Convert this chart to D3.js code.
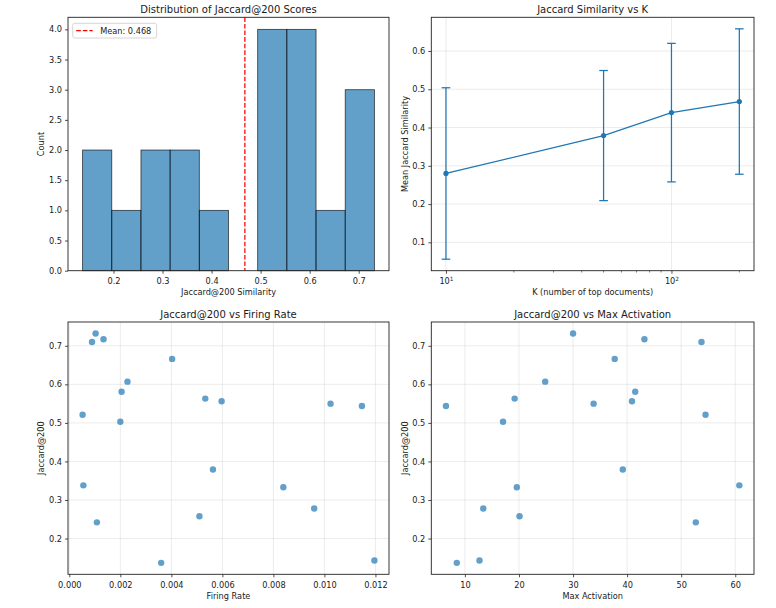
<!DOCTYPE html>
<html>
<head>
<meta charset="utf-8">
<script src="https://cdn.jsdelivr.net/npm/d3@7"></script>
<style>
  body { margin: 0; background: #fff; }
  text { font-family: "DejaVu Sans", sans-serif; fill: #1a1a1a; }
</style>
</head>
<body>
<div id="chart"></div>
<script>
const width = 776;
const height = 608;

// per-feature scores (same order in every array)
const jaccard = [0.732, 0.710, 0.717, 0.666, 0.607, 0.581, 0.563, 0.556, 0.550, 0.544,
                 0.521, 0.503, 0.379, 0.338, 0.333, 0.278, 0.258, 0.242, 0.137, 0.143];
const firingRate = [0.00103, 0.00089, 0.00134, 0.00403, 0.00228, 0.00205, 0.00533, 0.00597, 0.01024, 0.01147,
                    0.00052, 0.00200, 0.00563, 0.00055, 0.00839, 0.00960, 0.00510, 0.00108, 0.00360, 0.01196];
const maxActivation = [30.0, 53.75, 43.2, 37.7, 24.85, 41.5, 19.2, 40.9, 33.8, 6.5,
                       54.5, 17.05, 39.2, 60.75, 19.6, 13.4, 20.1, 52.7, 8.5, 12.7];

// jaccard vs K
const kValues = [10, 50, 100, 200];
const kMeans = [0.280, 0.379, 0.439, 0.468];
const kStd = [0.224, 0.170, 0.181, 0.190];

// tick labels
const histYTicks = [0, 0.5, 1, 1.5, 2, 2.5, 3, 3.5, 4];
const histXTicks = [0.2, 0.3, 0.4, 0.5, 0.6, 0.7];
const kYTicks = [0.1, 0.2, 0.3, 0.4, 0.5, 0.6];
const kMajor = [10, 100];
const kMinor = [20, 30, 40, 50, 60, 70, 80, 90, 200];
const scatterYTicks = [0.2, 0.3, 0.4, 0.5, 0.6, 0.7];
const firingTicks = [0, 0.002, 0.004, 0.006, 0.008, 0.010, 0.012];
const maxActTicks = [10, 20, 30, 40, 50, 60];

const blue = "#1f77b4";
const fs = 8.2;

const svg = d3.select("#chart")
  .append("svg")
  .attr("width", width)
  .attr("height", height)
  .style("background", "#fff");

// panel boxes (pixel rectangles of the four axes)
const boxes = {
  tl: {x0: 68, x1: 389, y0: 17.3, y1: 270.7},
  tr: {x0: 431.3, x1: 754, y0: 17.3, y1: 270.7},
  bl: {x0: 68, x1: 389, y0: 322, y1: 574.3},
  br: {x0: 431.3, x1: 754, y0: 322, y1: 574.3}
};

// matplotlib style 5% margin
function pad(lo, hi) {
  const r = hi - lo;
  return [lo - r * 0.05, hi + r * 0.05];
}

function addTitles(b, title, xlabel, ylabel, ylabelX) {
  svg.append("text")
    .attr("x", (b.x0 + b.x1) / 2)
    .attr("y", b.y0 - 4.5)
    .attr("text-anchor", "middle")
    .attr("font-size", 10)
    .text(title);
  svg.append("text")
    .attr("x", (b.x0 + b.x1) / 2)
    .attr("y", b.y1 + 21.5)
    .attr("dy", "0.35em")
    .attr("text-anchor", "middle")
    .attr("font-size", fs)
    .text(xlabel);
  svg.append("text")
    .attr("transform", `translate(${ylabelX}, ${(b.y0 + b.y1) / 2}) rotate(-90)`)
    .attr("dy", "0.35em")
    .attr("text-anchor", "middle")
    .attr("font-size", fs)
    .text(ylabel);
}

function drawAxes(b, x, y, xTicks, yTicks, xFmt, yFmt) {
  const gx = svg.append("g")
    .attr("transform", `translate(0, ${b.y1})`)
    .call(d3.axisBottom(x).tickValues(xTicks).tickFormat(xFmt).tickSize(3).tickPadding(4.5));
  const gy = svg.append("g")
    .attr("transform", `translate(${b.x0}, 0)`)
    .call(d3.axisLeft(y).tickValues(yTicks).tickFormat(yFmt).tickSize(3).tickPadding(3));
  [gx, gy].forEach(g => {
    g.select(".domain").remove();
    g.selectAll("text").attr("font-size", fs).attr("font-family", "DejaVu Sans").attr("fill", "#1a1a1a");
    g.selectAll("line").attr("stroke", "#222").attr("stroke-width", 0.8);
  });
  return gx;
}

function drawFrame(b) {
  svg.append("rect")
    .attr("x", b.x0).attr("y", b.y0)
    .attr("width", b.x1 - b.x0).attr("height", b.y1 - b.y0)
    .attr("fill", "none")
    .attr("stroke", "#222")
    .attr("stroke-width", 0.9);
}

function drawGrid(b, x, y, xTicks, yTicks) {
  const g = svg.append("g")
    .attr("stroke", "#b0b0b0")
    .attr("stroke-opacity", 0.35)
    .attr("stroke-width", 0.7);
  xTicks.forEach(t => {
    g.append("line").attr("x1", x(t)).attr("x2", x(t)).attr("y1", b.y0).attr("y2", b.y1);
  });
  yTicks.forEach(t => {
    g.append("line").attr("x1", b.x0).attr("x2", b.x1).attr("y1", y(t)).attr("y2", y(t));
  });
}

// ---------- histogram ----------
{
  const b = boxes.tl;
  const lo = d3.min(jaccard), hi = d3.max(jaccard);
  const nBins = 10;
  const step = (hi - lo) / nBins;
  const edges = d3.range(1, nBins).map(i => lo + i * step);
  const bins = d3.bin().domain([lo, hi]).thresholds(edges)(jaccard);

  const x = d3.scaleLinear().domain(pad(lo, hi)).range([b.x0, b.x1]);
  const y = d3.scaleLinear().domain([0, 4.2]).range([b.y1, b.y0]);

  svg.append("g")
    .selectAll("rect")
    .data(bins.filter(d => d.length > 0))
    .join("rect")
    .attr("x", d => x(d.x0))
    .attr("y", d => y(d.length))
    .attr("width", d => x(d.x1) - x(d.x0))
    .attr("height", d => y(0) - y(d.length))
    .attr("fill", blue)
    .attr("fill-opacity", 0.7)
    .attr("stroke", "#000")
    .attr("stroke-opacity", 0.7)
    .attr("stroke-width", 0.85);

  const mean = d3.mean(jaccard);
  svg.append("line")
    .attr("x1", x(mean)).attr("x2", x(mean))
    .attr("y1", b.y0).attr("y2", b.y1)
    .attr("stroke", "red")
    .attr("stroke-width", 1.25)
    .attr("stroke-dasharray", "4.6,2");

  drawAxes(b, x, y, histXTicks, histYTicks, d3.format(".1f"), d3.format(".1f"));
  addTitles(b, "Distribution of Jaccard@200 Scores", "Jaccard@200 Similarity", "Count", 41);
  drawFrame(b);

  // legend
  const lg = svg.append("g").attr("transform", `translate(${b.x0 + 4.7}, ${b.y0 + 6})`);
  lg.append("rect")
    .attr("width", 84).attr("height", 14.7)
    .attr("rx", 2)
    .attr("fill", "#fff").attr("fill-opacity", 0.8)
    .attr("stroke", "#cccccc").attr("stroke-width", 0.8);
  lg.append("line")
    .attr("x1", 3.5).attr("x2", 20).attr("y1", 7.4).attr("y2", 7.4)
    .attr("stroke", "red").attr("stroke-width", 1.25)
    .attr("stroke-dasharray", "4.6,2");
  lg.append("text")
    .attr("x", 27.5).attr("y", 7.4).attr("dy", "0.35em")
    .attr("font-size", fs)
    .text(`Mean: ${d3.format(".3f")(mean)}`);
}

// ---------- jaccard vs K ----------
{
  const b = boxes.tr;
  const lx = pad(Math.log10(d3.min(kValues)), Math.log10(d3.max(kValues)));
  const x = d3.scaleLog().domain([10 ** lx[0], 10 ** lx[1]]).range([b.x0, b.x1]);
  const lows = kMeans.map((m, i) => m - kStd[i]);
  const highs = kMeans.map((m, i) => m + kStd[i]);
  const y = d3.scaleLinear().domain(pad(d3.min(lows), d3.max(highs))).range([b.y1, b.y0]);

  drawGrid(b, x, y, kMajor, kYTicks);

  const gx = drawAxes(b, x, y, kMajor, kYTicks, () => "", d3.format(".1f"));
  // 10^n labels
  gx.selectAll(".tick text").each(function(d) {
    const t = d3.select(this);
    t.text("10");
    t.append("tspan")
      .attr("font-size", 5.8)
      .attr("dy", "-0.55em")
      .text(Math.round(Math.log10(d)));
  });
  // minor ticks
  const gm = svg.append("g").attr("stroke", "#222").attr("stroke-width", 0.6);
  kMinor.forEach(t => {
    gm.append("line").attr("x1", x(t)).attr("x2", x(t)).attr("y1", b.y1).attr("y2", b.y1 + 1.8);
  });

  const pts = kValues.map((k, i) => ({k, m: kMeans[i], s: kStd[i]}));
  const eb = svg.append("g").attr("stroke", blue).attr("stroke-width", 1.25);
  pts.forEach(p => {
    eb.append("line").attr("x1", x(p.k)).attr("x2", x(p.k)).attr("y1", y(p.m - p.s)).attr("y2", y(p.m + p.s));
    [p.m - p.s, p.m + p.s].forEach(v => {
      eb.append("line").attr("x1", x(p.k) - 4.3).attr("x2", x(p.k) + 4.3).attr("y1", y(v)).attr("y2", y(v));
    });
  });
  svg.append("path")
    .datum(pts)
    .attr("fill", "none")
    .attr("stroke", blue)
    .attr("stroke-width", 1.25)
    .attr("d", d3.line().x(d => x(d.k)).y(d => y(d.m)));
  svg.append("g")
    .selectAll("circle")
    .data(pts)
    .join("circle")
    .attr("cx", d => x(d.k))
    .attr("cy", d => y(d.m))
    .attr("r", 2.6)
    .attr("fill", blue);

  addTitles(b, "Jaccard Similarity vs K", "K (number of top documents)", "Mean Jaccard Similarity", 404.7);
  drawFrame(b);
}

// ---------- scatter panels ----------
function scatterPanel(b, xs, xTicks, xFmt, title, xlabel, ylabelX) {
  const x = d3.scaleLinear().domain(pad(d3.min(xs), d3.max(xs))).range([b.x0, b.x1]);
  const y = d3.scaleLinear().domain(pad(d3.min(jaccard), d3.max(jaccard))).range([b.y1, b.y0]);

  drawGrid(b, x, y, xTicks, scatterYTicks);

  svg.append("g")
    .selectAll("circle")
    .data(xs.map((v, i) => [v, jaccard[i]]))
    .join("circle")
    .attr("cx", d => x(d[0]))
    .attr("cy", d => y(d[1]))
    .attr("r", 3.2)
    .attr("fill", blue)
    .attr("fill-opacity", 0.7);

  drawAxes(b, x, y, xTicks, scatterYTicks, xFmt, d3.format(".1f"));
  addTitles(b, title, xlabel, "Jaccard@200", ylabelX);
  drawFrame(b);
}

scatterPanel(boxes.bl, firingRate, firingTicks, d3.format(".3f"),
  "Jaccard@200 vs Firing Rate", "Firing Rate", 41);
scatterPanel(boxes.br, maxActivation, maxActTicks, d3.format("d"),
  "Jaccard@200 vs Max Activation", "Max Activation", 404.7);
</script>
</body>
</html>
